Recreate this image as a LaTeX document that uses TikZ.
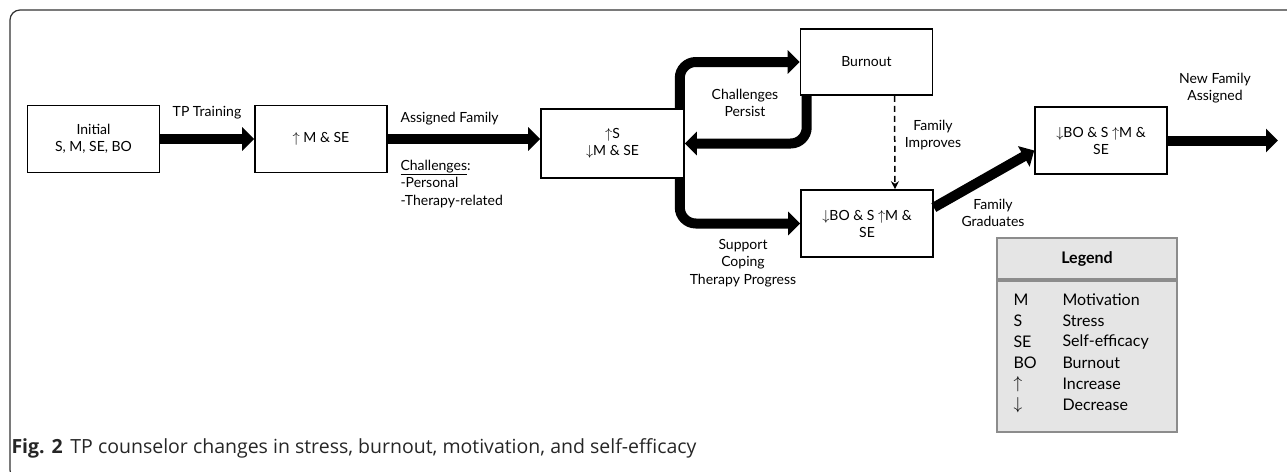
\documentclass[tikz,border=0pt]{standalone}
\usepackage{fontspec}
\setmainfont{Lato}
\newfontfamily\capfont{Open Sans}
\usetikzlibrary{arrows.meta,positioning}
\tikzstyle{stage} = [draw,line width=1.6pt,rectangle,minimum width=132pt,minimum height=67pt,inner sep=2pt,align=center,font=\fontsize{14}{17}\selectfont]
\tikzstyle{fat} = [line width=10pt,-{Triangle[length=12pt,width=23pt]}]
\tikzstyle{lbl} = [align=center,font=\fontsize{14}{17.5}\selectfont]
\tikzstyle{keybox} = [draw=black!45,fill=black!10,line width=2pt,rectangle,minimum width=180pt,inner sep=0]
\tikzstyle{key} = [anchor=west,font=\fontsize{16}{18}\selectfont]
\def \rc {16pt}

\begin{document}
\begin{tikzpicture}[x=1pt,y=-1pt]
  \useasboundingbox (0,0) rectangle (1287,471);
  \draw[black!80,line width=1.2pt,rounded corners=10pt] (10,10) rectangle (1300,480);
  % stages
  \node[stage] (init) at (93.5,139) {Initial\\S, M, SE, BO};
  \node[stage] (gain) at (321,139) {$\uparrow$ M \& SE};
  \node[stage,minimum width=143pt,minimum height=69pt] (strain) at (612.5,143.5) {$\uparrow$S\\$\downarrow$M \& SE};
  \node[stage,minimum height=66pt] (burn) at (866.5,62) {Burnout};
  \node[stage] (relief) at (867,223.5) {$\downarrow$BO \& S $\uparrow$M \&\\SE};
  \node[stage] (grad) at (1101,140.5) {$\downarrow$BO \& S $\uparrow$M \&\\SE};
  \coordinate (nfend) at (1278,140.5);
  % connectors
  \draw[fat] (init) -- (gain);
  \draw[fat] (gain.east) -- (gain.east -| strain.west);
  \draw[fat,rounded corners=\rc] ([xshift=-5pt]strain.north east) |- (burn.west);
  \draw[fat,rounded corners=\rc] ([xshift=7pt]burn.south west) |- (strain.east);
  \draw[fat,rounded corners=\rc] ([xshift=-5pt]strain.south east) |- (relief.west);
  \draw[dashed,dash pattern=on 6pt off 4pt,line width=1.5pt,-{Stealth[length=8pt,width=8pt]}] ([xshift=28pt]burn.south) -- ([xshift=28pt]relief.north);
  \draw[fat] ([yshift=16pt]relief.east) -- ([yshift=-10pt]grad.west);
  \draw[fat] (grad.east) -- (nfend);
  % labels
  \node[lbl] (ltrain) at (207,113) {TP Training};
  \node[lbl,anchor=west] (lassign) at (397,119) {Assigned Family};
  \node[lbl,anchor=west,align=left] (lchall) at (397,184) {\underline{Challenges}:\\-Personal\\-Therapy-related};
  \node[lbl] (lpersist) at (745,103) {Challenges\\Persist};
  \node[lbl] (lsupport) at (743,263) {Support\\Coping\\Therapy Progress};
  \node[lbl] (limprove) at (933,135) {Family\\Improves};
  \node[lbl] (lgrad) at (993,213) {Family\\Graduates};
  \node[lbl] (lnew) at (1215,88) {New Family\\Assigned};
  % legend
  \node[keybox,minimum height=41pt,font=\bfseries\fontsize{16}{18}\selectfont] (lghead) at (1087,258.5) {Legend};
  \node[keybox,minimum height=151pt,below=0pt of lghead] (lgbody) {};
  \foreach \ab/\txt [count=\i] in {M/Motivation,S/Stress,SE/Self-efficacy,BO/Burnout,$\uparrow$/Increase,$\downarrow$/Decrease} {
    \node[key] (ab\i) at (1010,279+21*\i) {\ab};
    \node[key] (de\i) at (1059,279+21*\i) {\txt};
  }
  % caption
  \node[anchor=west,text=black!85,font=\capfont\fontsize{19.5}{21}\selectfont] (cap) at (8,448) {\textbf{Fig. 2}\hspace{0.4em}TP counselor changes in stress, burnout, motivation, and self-efficacy};
\end{tikzpicture}
\end{document}
